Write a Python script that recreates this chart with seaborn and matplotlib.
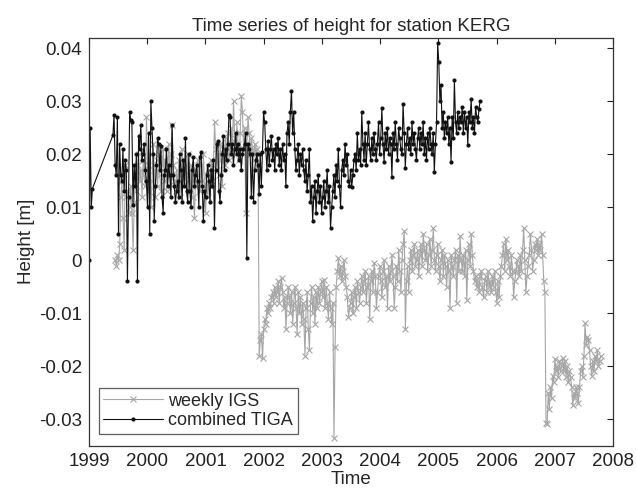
import numpy as np
import pandas as pd
import seaborn as sns
import matplotlib.pyplot as plt
from matplotlib.ticker import FuncFormatter

# heights in mm, one value per GPS week
station = "KERG"

# combined TIGA: a few weeks early 1999, then continuous from 1999.41
tiga_start_1 = 1999.00
tiga_mm_1 = [0, 25, 10, 13.5]

tiga_start_2 = 1999.41
tiga_mm_2 = [
    23.6, 27.5, 18, 16, 27, 5, 22, 16, 15, 21, 13, 19, 17,
    -4, 12, 28, 26.5, 26, 10.5, 18, 14, 20, -4, 23.5, 21, 25.5,
    19, 20, 22, 17, 15, 10, 24, 5, 30, 25, 20, 7.5, 14,
    18, 23, 22, 17, 21.5, 12, 9, 16, 17, 21, 14, 18, 16,
    12, 25.5, 16, 14, 11, 13, 15, 12, 20, 17, 11, 19, 14,
    23, 13, 11, 20, 13, 10, 17, 19.5, 14, 16, 18, 15, 10,
    19.5, 20.5, 14, 7.5, 13, 12, 16, 18, 15, 11, 17, 14, 19,
    6, 17, 22, 22.5, 13, 11, 16, 20, 23.5, 17, 21, 19, 22,
    27.5, 27, 20, 22, 18, 21, 24, 20, 22, 19, 21, 17, 20,
    21, 22, 24, 0.5, 22, 21, 20, 12, 20, 11, 17, 19, 20,
    18, 12.5, 20, 14, 20.5, 28, 26, 21, 17, 22.5, 18, 21, 23.5,
    19, 21, 17, 22, 20, 23, 18, 21, 17, 22, 19, 20, 14,
    24, 26, 22, 28, 32, 24, 28, 21, 17, 19, 22, 16, 20,
    18, 21, 17, 15, 19, 13, 16, 21, 11, 14, 7.5, 12, 15,
    9, 13, 16, 11, 14, 9, 12, 15, 10, 13, 17, 11, 14,
    6, 10, 13, 16, 12, 18, 15, 21, 14, 10, 17, 19, 16,
    22, 18, 20, 15, 14, 17, 13.8, 16, 19, 20, 17, 24, 19,
    21, 18, 28, 22, 19, 24, 18, 22, 26, 21, 19, 23, 20,
    24, 21, 19, 22, 26, 20, 23, 28.7, 22, 18.5, 24, 21, 25,
    20, 23, 22, 15.7, 24, 21, 26, 22, 19, 25, 23, 21, 20,
    29.5, 24, 17.5, 22, 25, 21, 23, 20, 26, 22, 24, 21, 19,
    23, 25, 21, 24, 22, 26, 20, 23, 19, 24, 21, 25, 22,
    20, 24, 16.7, 22, 26, 41, 37.5, 30, 33, 25, 28, 23, 26,
    24, 27, 22, 25, 18.6, 27, 23, 34, 26, 24, 28, 25, 27,
    26, 29, 24, 28, 25, 27, 21.7, 28, 26, 30.5, 25, 27, 24,
    29, 27, 26, 28.5, 30,
]

# weekly IGS solution from 1999.45
igs_start = 1999.45
igs_mm = [
    0, -1, 1, 0, 3, 12, 15, 8, 2, 18, 12, 13, 9,
    10, 14, 9, 2, 11, 16, 13, 18, 20, 15, 17, 12, 19,
    16, 14, 27, 18, 13, 20, 10, 15, 22, 17, 12, 19, 14,
    20, 16, 13, 18, 21, 15, 19, 13, 17, 22, 16, 20, 25.5,
    18, 15, 13, 17, 14, 19, 12, 16, 21, 17, 14, 18, 15,
    20, 16, 13, 18, 15, 12, 8, 17, 14, 19, 16, 13, 18,
    15, 20, 13, 9, 16, 12, 17, 14, 19, 15, 18, 26, 21,
    17, 20, 16, 22, 19, 14, 21, 18, 23, 20, 24, 19, 22,
    25, 21, 30, 23, 20, 26, 22, 19, 24, 31, 28, 21, 25,
    9, 22, 27, 24, 20, 23, 21, 19, 22, 20, 21, 18, -18,
    -15, -14, -18.5, -13, -11, -12, -9, -10, -8, -9, -7, -6, -8,
    -5, -7, -6, -4, -8, -5, -3.4, -6, -9, -7, -13, -8, -5,
    -7, -10, -6, -12, -8, -5, -9, -14, -6, -10, -7, -12, -8,
    -11, -18, -9, -6, -13, -17, -8, -5, -10, -7, -12, -6, -9,
    -5, -8, -6, -4, -7, -3.8, -9, -5, -8, -11, -6, -9, -12,
    -8, -33.6, -16.4, -5, -2, 0.4, -3, -1, -4, -2, 0, -3, -5,
    -7, -10.8, -9, -8, -6, -10, -7, -5, -9, -4, -6, -8, -5,
    -3, -6, -4, -2, -8, -5, -3, -11, -4, -2, -6, -0.5, -3,
    -9, -6, -3, -1, -4, -7, -2, 0, -5, -3, -9, -1, -4,
    -2, 1, -3, -9, -5, -1, -4, 2, -2, -6, 0, 3, 5.5,
    -13, -4, -1, -6, 0, 2, -2, 1, 3, -1, 0, 2, -3,
    1, 3, -1, 5, 2, 0, 3, -2, 1, 4, -1, 2, 6,
    0, -2, 1, 3, -1, -4, 0, 2, -3, 1, -1, -5, 0,
    -2, -9, 1, -1, -3, 0, 2, -8, 1, -2, 4.5, 0, -2,
    1, -3, 2, -7.5, 0, 3, -1, 5, 1, -2, -4, -3, -5,
    -4, -6, -3, -2, -5, -7, -4, -3, -6, -2, -5, -4, -6,
    -3, -5, -2, -6, -8, -4, -7, -3, -1, 1, 3, -2, 4,
    0, 2, -1, -3, 1, -2, -7, -4, -2, 0, -1, -3, 1,
    -2, 2, 6, 0, -6, -3, -1, 1, 5, 2, -2, 0, 3,
    2, 4, 1, 3, 2, 5, 1, -4, -6, -30.8, -31, -25, -28,
    -24, -26, -21.8, -23, -18.6, -21, -20, -22, -19, -21, -20, -18.5, -21,
    -19, -22, -20, -23, -21, -22, -24, -27.4, -25, -26, -24, -25, -27,
    -24, -21, -20, -22, -18, -11.9, -16, -14.5, -15, -17, -20, -21.8, -19,
    -21, -18, -19, -17, -20, -19, -18,
]

WEEK = 7 / 365.25


def weekly(start, values):
    t = start + np.arange(len(values)) * WEEK
    return pd.DataFrame({"time": t, "height": np.array(values) / 1000.0})


df_igs = weekly(igs_start, igs_mm)
df_tiga = pd.concat([weekly(tiga_start_1, tiga_mm_1), weekly(tiga_start_2, tiga_mm_2)],
                    ignore_index=True)

sns.set_theme(style="white")
plt.rcParams["font.family"] = ["Liberation Sans", "DejaVu Sans"]

fig = plt.figure(figsize=(6.36, 4.93), dpi=100)
ax = fig.add_axes([0.140, 0.096, 0.824, 0.8275])

sns.lineplot(data=df_igs, x="time", y="height", ax=ax, sort=False, estimator=None,
             color="#a6a6a6", lw=0.8, marker="x", markersize=4, markeredgewidth=0.8,
             markeredgecolor="#a6a6a6", label="weekly IGS")
sns.lineplot(data=df_tiga, x="time", y="height", ax=ax, sort=False, estimator=None,
             color="#111111", lw=0.8, marker="o", markersize=3, markeredgewidth=0,
             label="combined TIGA")

ax.set_xlim(1999, 2008)
ax.set_ylim(-0.035, 0.042)
ax.set_xticks(range(1999, 2009))
ax.set_yticks([-0.03, -0.02, -0.01, 0, 0.01, 0.02, 0.03, 0.04])
ax.yaxis.set_major_formatter(FuncFormatter(lambda v, p: "%g" % round(v, 3)))
ax.tick_params(direction="in", length=4, width=0.8, top=True, right=True,
               labelsize=13.5, colors="#222222", pad=5)
for s in ax.spines.values():
    s.set_color("#333333")
    s.set_linewidth(0.9)

ax.set_xlabel("Time", fontsize=13.5, labelpad=1)
ax.set_ylabel("Height [m]", fontsize=13.5, labelpad=3)
ax.set_title("Time series of height for station " + station, fontsize=13.5, pad=5)

leg = ax.legend(loc="lower left", bbox_to_anchor=(0.012, 0.02), fontsize=13,
                frameon=True, fancybox=False, borderpad=0.25, handlelength=3.3,
                handletextpad=0.3, labelspacing=0.15, borderaxespad=0.2)
leg.get_frame().set_edgecolor("#333333")
leg.get_frame().set_linewidth(0.9)

fig.savefig("out.png", dpi=100)
